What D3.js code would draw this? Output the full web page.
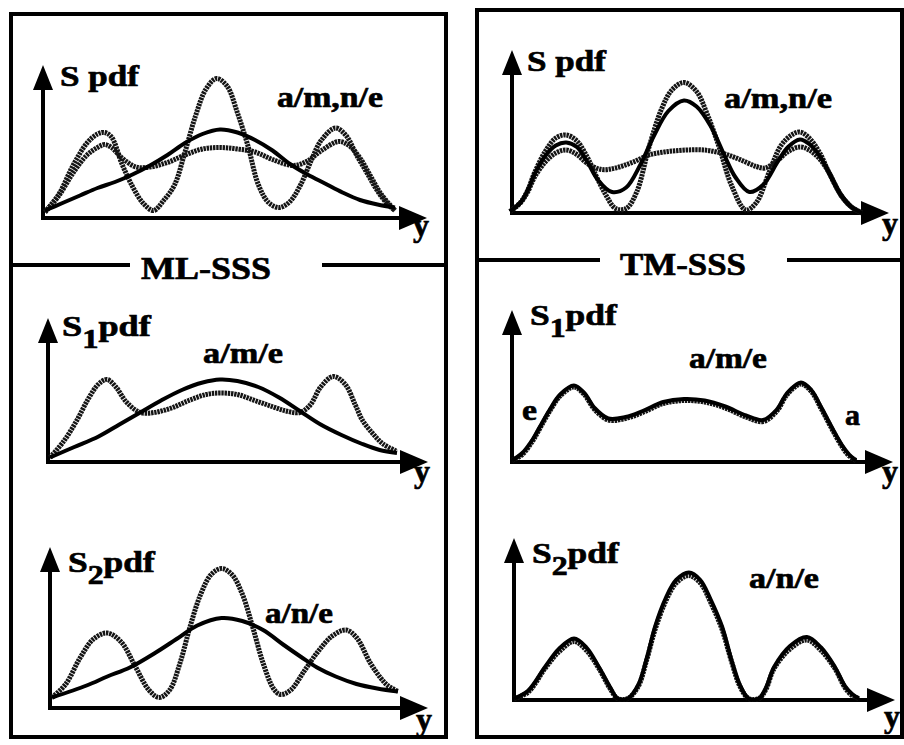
<!DOCTYPE html>
<html><head><meta charset="utf-8">
<script src="https://cdn.jsdelivr.net/npm/d3@7"></script>
<style>body{margin:0;background:#fff} svg{display:block}</style>
</head><body><svg id="c" width="904" height="745"></svg>
<script>
// ---------- DATA (x: position along y-axis 0..100, value: pdf height 0..100) ----------
// Panel 1: ML-SSS, S pdf, a/m,n/e
const p1Trimodal = [[0,4],[4,16],[8,35],[12,50],[15,56],[17,57],[19,54],[22,36],[25,21],[28,10],[31,5],[34,12],[37,22],[40,44],[43,68],[46,86],[49,93],[52,88],[55,70],[58,48],[61,22],[64,10],[67,7],[70,11],[73,22],[76,38],[79,52],[83,60],[86,55],[89,42],[92,30],[95,18],[98,9],[100,5]];
const p1Plateau = [[0,4],[4,15],[8,30],[12,42],[15,47],[17,49],[19,47],[22,40],[26,34],[30,34],[35,37],[40,42],[45,46],[50,47],[55,46],[60,44],[65,39],[71,35],[75,38],[79,45],[84,51],[87,48],[90,40],[93,28],[96,16],[100,5]];
const p1Solid = [[0,5],[5,10],[10,15],[15,20],[20,24],[25,29],[30,35],[35,42],[40,50],[45,56],[50,59],[55,57],[60,52],[65,45],[70,36],[75,29],[80,23],[85,17],[90,12],[95,9],[100,7]];
// Panel 2: TM-SSS, S pdf, a/m,n/e
const p2Trimodal = [[0,1],[3,7],[5,15],[7,27],[10,41],[13,50],[16,52],[19,48],[22,37],[24,27],[27,13],[30,3],[33,3],[36,14],[39.5,44],[43,69],[46,82],[49.4,87],[53,81],[56,66],[59.4,44],[63,18],[67,2],[70,7],[73.6,27],[77,45],[80,52],[82.4,54],[85,50],[88,40],[90.6,27],[94,12],[97,4],[100,0]];
const p2Solid = [[0,1],[3,7],[5,15],[7,26],[10,38],[13,45],[16,47],[19,44],[22,34],[25,22],[29,14],[33,17],[37,32],[41,52],[45,68],[49.4,75],[53,71],[57,58],[61,38],[64,24],[68,14],[72,19],[76,34],[79,44],[82.4,49],[85,46],[88,38],[90.6,27],[94,12],[97,4],[100,0]];
const p2Plateau = [[0,1],[3,7],[5,14],[7,24],[10,34],[13,40],[16,42],[19,39],[22,33],[26,29],[30,30],[35,34],[40,39],[45,41],[50,42],[55,42],[60,40],[65,36],[70,31],[72.4,30],[76,35],[79,41],[82.4,44],[85,42],[88,36],[90.6,27],[94,12],[97,4],[100,0]];
// Panel 3: ML-SSS, S1 pdf, a/m/e
const p3Dotted = [[0,3],[4,14],[7.8,28],[11,42],[14,52],[16.4,55],[19,50],[22,40],[26,33],[30,33],[35,36],[40,41],[45,45],[49,46],[54,45],[59,41],[64,37],[68,34],[72,33],[75,38],[78,50],[81.6,57],[85,52],[88,38],[90,28],[93,19],[96,12],[100,7]];
const p3Solid = [[0,3],[7,10],[14,17],[20,25],[26,33],[32,41],[38,48],[44,53],[49,55],[54,54],[60,50],[66,43],[72,34],[78,25],[84,18],[90,12],[95,8],[100,6]];
// Panel 4: TM-SSS, S1 pdf, a/m/e
const p4Solid = [[0,1],[3,6],[6,15],[8,23],[11,35],[14,45],[18,51],[21,46],[24,36],[28,29],[33,30],[38,34],[44,40],[50,42],[56,41],[62,37],[68,31],[73,28],[77,35],[80,46],[84,53],[87,48],[90,36],[93,23],[96,11],[98,5],[100,1]];
const p4Dotted = [[0,1],[3,5],[6,14],[8,22],[11,34],[14,44],[18,50],[21,45],[24,35],[28,28],[33,29],[38,33],[44,39],[50,41],[56,40],[62,36],[68,30],[73,27],[77,34],[80,45],[84,52],[87,47],[90,35],[93,22],[96,10],[98,4],[100,1]];
// Panel 5: ML-SSS, S2 pdf, a/n/e
const p5Trimodal = [[0,7],[4,16],[8,33],[12,46],[16,50],[20,44],[24,28],[28,12],[31,7],[34,12],[37,30],[40,55],[43,76],[46,89],[49,93],[52,89],[55,76],[58,54],[61,30],[64,13],[66,9],[69,12],[73,25],[77,38],[81,48],[85,52],[88,47],[92,30],[95,20],[97,15],[100,11]];
const p5Solid = [[0,7],[10,15],[16,21],[22.5,27],[30,37],[36,46],[42,55],[49,60],[55,58],[61,52],[67,42],[72,34],[76.6,27],[82,21],[88,16],[94,13],[100,11]];
// Panel 6: TM-SSS, S2 pdf, a/n/e
const p6Solid = [[0,1],[4,6],[9,22],[13,34],[17.4,41],[21,35],[24.6,22],[28,8],[30,1],[33,1],[36,10],[38.5,28],[40.9,49],[44,68],[47,80],[50.7,85],[54,80],[57,67],[60.3,49],[63,27],[65.5,10],[68,1],[71,1],[73,8],[75.4,22],[80,36],[84.9,42],[89,35],[93,22],[96,9],[98,4],[100,1]];
const p6Dotted = [[0,1],[4,5],[9,21],[13,32],[17.4,39],[21,33],[24.6,21],[28,7],[30,1],[33,1],[36,9],[38.5,27],[40.9,47],[44,66],[47,78],[50.7,83],[54,78],[57,65],[60.3,47],[63,26],[65.5,9],[68,1],[71,1],[73,7],[75.4,21],[80,34],[84.9,40],[89,33],[93,21],[96,8],[98,3],[100,1]];

const sectionTitles = ["ML-SSS", "TM-SSS"];
const labelSpdf = ["S pdf", "S pdf"];
const curveLabels = ["a/m,n/e", "a/m,n/e", "a/m/e", "a/m/e", "a/n/e", "a/n/e"];
const axisLabel = "y";

// ---------- LAYOUT ----------
const panels = [
  {ox:43, oy:218, top:65, right:427, x0:45, x1:395, series:[[p1Trimodal,'dot'],[p1Plateau,'dot'],[p1Solid,'solid']],
   ylab:{txt:labelSpdf[0], sub:null, x:60, y:86, w:80}, clab:{txt:curveLabels[0], x:277, y:107, w:106}, ylbl:{x:413,y:236}},
  {ox:512, oy:213, top:50, right:889, x0:510, x1:862, series:[[p2Trimodal,'dot'],[p2Plateau,'dot'],[p2Solid,'solid']],
   ylab:{txt:labelSpdf[1], sub:null, x:527, y:71, w:80}, clab:{txt:curveLabels[1], x:724, y:108, w:108}, ylbl:{x:882,y:234}},
  {ox:48, oy:462, top:318, right:428, x0:50, x1:397, series:[[p3Dotted,'dot'],[p3Solid,'solid']],
   ylab:{txt:"S", sub:"1", x:62, y:336, w:90}, clab:{txt:curveLabels[2], x:203, y:363, w:80}, ylbl:{x:414,y:482}},
  {ox:512, oy:462, top:310, right:893, x0:512, x1:856, series:[[p4Dotted,'dot'],[p4Solid,'solid']],
   ylab:{txt:"S", sub:"1", x:530, y:325, w:88}, clab:{txt:curveLabels[3], x:689, y:368, w:78}, ylbl:{x:882,y:482},
   extra:[{txt:"e", x:522, y:420, w:15},{txt:"a", x:845, y:425, w:15}]},
  {ox:50, oy:708, top:547, right:428, x0:52, x1:398, series:[[p5Trimodal,'dot'],[p5Solid,'solid']],
   ylab:{txt:"S", sub:"2", x:68, y:572, w:88}, clab:{txt:curveLabels[4], x:265, y:623, w:68}, ylbl:{x:416,y:730}},
  {ox:514, oy:700, top:538, right:895, x0:514, x1:859, series:[[p6Dotted,'dot'],[p6Solid,'solid']],
   ylab:{txt:"S", sub:"2", x:532, y:563, w:88}, clab:{txt:curveLabels[5], x:749, y:588, w:70}, ylbl:{x:884,y:727}}
];

const svg = d3.select("#c");

function label(x, y, w, build, size) {
  const g = svg.append("g").attr("transform", `translate(${x},${y})`);
  const t = g.append("text").attr("style", "font-family:'Liberation Serif';font-weight:bold")
    .attr("font-size", size || 30).attr("fill", "#000")
    .attr("stroke", "#000").attr("stroke-width", 0.7);
  build(t);
  const bw = t.node().getBBox().width;
  t.attr("transform", `scale(${w / bw},1)`);
  return g;
}
function plain(txt, x, y, w, size) { return label(x, y, w, t => t.text(txt), size); }

// frames
svg.append("rect").attr("x", 11).attr("y", 14).attr("width", 435).attr("height", 723)
  .attr("fill", "none").attr("stroke", "#000").attr("stroke-width", 4);
svg.append("rect").attr("x", 477).attr("y", 10).attr("width", 425).attr("height", 727)
  .attr("fill", "none").attr("stroke", "#000").attr("stroke-width", 4);
// separators
[[11,130,265],[322,446,265],[477,600,260],[787,902,260]].forEach(s =>
  svg.append("line").attr("x1", s[0]).attr("x2", s[1]).attr("y1", s[2]).attr("y2", s[2])
    .attr("stroke", "#000").attr("stroke-width", 4));
plain(sectionTitles[0], 141, 279, 130, 32);
plain(sectionTitles[1], 620, 275, 126, 32);

panels.forEach(p => {
  const x = d3.scaleLinear().domain([0, 100]).range([p.x0, p.x1]);
  const y = d3.scaleLinear().domain([0, 100]).range([p.oy, p.oy - 150]);
  const line = d3.line().x(d => x(d[0])).y(d => y(d[1])).curve(d3.curveCatmullRom.alpha(0.5));
  // axes
  svg.append("line").attr("x1", p.ox).attr("x2", p.ox).attr("y1", p.oy + 2).attr("y2", p.top + 18)
    .attr("stroke", "#000").attr("stroke-width", 4);
  svg.append("path").attr("d", `M${p.ox},${p.top}L${p.ox - 10},${p.top + 25}L${p.ox + 10},${p.top + 25}Z`).attr("fill", "#000");
  svg.append("line").attr("x1", p.ox - 2).attr("x2", p.right - 20).attr("y1", p.oy).attr("y2", p.oy)
    .attr("stroke", "#000").attr("stroke-width", 4);
  svg.append("path").attr("d", `M${p.right},${p.oy}L${p.right - 28},${p.oy - 12}L${p.right - 28},${p.oy + 12}Z`).attr("fill", "#000");
  // curves
  p.series.forEach(([d, style]) => {
    const path = svg.append("path").datum(d).attr("d", line).attr("fill", "none");
    if (style === 'dot') {
      path.attr("stroke", "#151515").attr("stroke-width", 5).attr("stroke-dasharray", "2.4 0.8");
    } else {
      path.attr("stroke", "#000").attr("stroke-width", 4);
    }
  });
  // labels
  const yl = p.ylab;
  if (yl.sub) {
    label(yl.x, yl.y, yl.w, t => {
      t.append("tspan").text(yl.txt);
      t.append("tspan").attr("font-size", 27).attr("dy", 12).text(yl.sub);
      t.append("tspan").attr("dy", -12).text("pdf");
    });
  } else {
    plain(yl.txt, yl.x, yl.y, yl.w);
  }
  plain(p.clab.txt, p.clab.x, p.clab.y, p.clab.w);
  plain(axisLabel, p.ylbl.x, p.ylbl.y, 16, 32);
  (p.extra || []).forEach(e => plain(e.txt, e.x, e.y, e.w));
});
</script></body></html>
